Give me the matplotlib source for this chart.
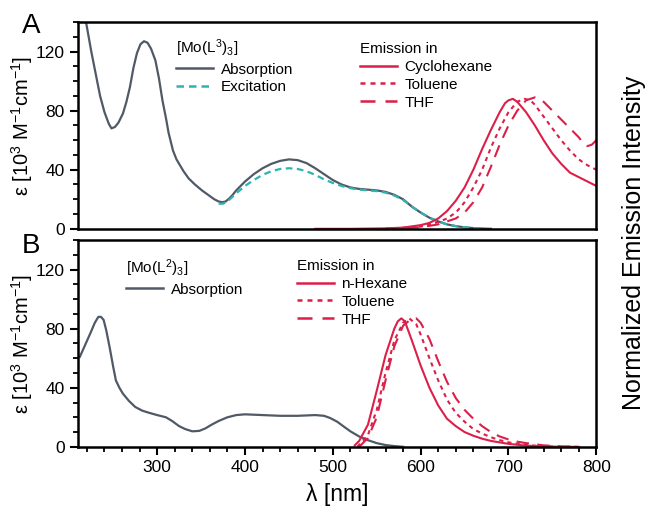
#!/usr/bin/env python3
"Absorption, excitation and emission spectra of [Mo(L3)3] and [Mo(L2)3]"

import matplotlib
matplotlib.use("Agg")
import matplotlib.pyplot as plt
from matplotlib.lines import Line2D
from matplotlib.ticker import MultipleLocator

plt.rcParams['font.family'] = ['Liberation Sans', 'DejaVu Sans']
plt.rcParams['mathtext.default'] = 'regular'

GRAY = '#505a66'
TEAL = '#2db3b0'
RED = '#dc1f48'

# Panel A, [Mo(L3)3]
abs_a_nm = [212, 219, 225, 230, 235, 240, 245, 248, 252, 256, 261, 265, 269,
            273, 277, 281, 285, 289, 293, 298, 302, 306, 310, 313, 318, 322,
            325, 330, 336, 343, 351, 358, 365, 370, 374, 378, 382, 386, 390,
            400, 410, 420, 430, 440, 450, 460, 470, 480, 490, 500, 510, 520,
            530, 540, 550, 560, 570, 580, 590, 600, 610, 620, 630, 640, 650,
            660, 670, 680]
abs_a = [165, 140, 120, 105, 90, 79, 71, 68, 69, 72, 78, 86, 96,
         109, 119, 125, 127, 126, 122, 114, 102, 87, 75, 65, 53, 47,
         44, 39, 34, 30, 26, 23, 20, 18.5, 18, 18.5, 20.5, 23, 26,
         32, 37, 41, 44, 46, 47, 46.5, 44.5, 41, 37, 33, 30, 28,
         27, 26.5, 26, 25, 23, 20, 15, 11, 7.5, 5, 3, 1.8, 1,
         0.5, 0.2, 0]

exc_a_nm = [370, 375, 380, 390, 400, 410, 420, 430, 440, 450, 460, 470, 480,
            490, 500, 510, 520, 530, 540, 550, 560, 570, 580, 590, 600, 610,
            620, 630, 640, 650, 660, 670]
exc_a = [17, 17, 18.5, 24, 29, 33, 36.5, 39, 40.5, 41, 40.5, 39, 36.5,
         33.5, 31, 29, 27.5, 26.5, 26, 25.5, 24.5, 22.5, 19.5, 15, 11, 7.5,
         5, 3, 1.8, 1, 0.5, 0]

em_cyc_nm = [480, 520, 560, 580, 600, 610, 620, 630, 640, 650, 660, 670, 680,
             690, 696, 700, 705, 710, 720, 730, 740, 750, 760, 770, 780, 790,
             800]
em_cyc = [0, 0, 0.3, 0.8, 2.5, 4, 7, 12, 19, 28, 40, 54, 67,
          79, 85, 87, 88, 86, 79, 70, 60, 51, 44, 38, 35, 32,
          29]

em_tol_a_nm = [560, 600, 620, 630, 640, 646, 650, 660, 670, 680, 690, 700,
               710, 718, 725, 730, 740, 750, 760, 770, 780, 790, 800]
em_tol_a = [0, 1.5, 4.5, 7, 11, 15, 18, 28, 40, 55, 68, 79,
            86, 88, 87, 84, 76, 68, 60, 53, 47, 43, 40]

em_thf_a_nm = [560, 600, 620, 640, 650, 660, 670, 680, 690, 700, 710, 720,
               730, 740, 750, 760, 770, 780, 785, 790, 795, 800]
em_thf_a = [0, 1, 3, 7, 11, 18, 28, 42, 57, 70, 80, 87,
            89, 86, 80, 74, 68, 62, 58, 56, 57, 60]

# Panel B, [Mo(L2)3]
abs_b_nm = [212, 218, 224, 229, 233, 236, 239, 242, 246, 250, 253, 257, 261,
            268, 275, 283, 291, 300, 310, 317, 325, 332, 340, 348, 355, 362,
            370, 380, 390, 400, 420, 440, 460, 480, 490, 497, 505, 513, 520,
            530, 540, 550, 560, 570, 580]
abs_b = [61, 69, 77, 84, 88, 88, 86, 79, 67, 54, 45, 40, 36,
         31, 27, 24.5, 23, 21.5, 20, 17.5, 14, 12, 10.5, 10.8, 12.5, 15,
         17.5, 20, 21.5, 22, 21.5, 21, 21, 21.5, 21, 19.5, 17, 13.5, 10.5,
         7, 4.5, 2.5, 1.2, 0.5, 0]

em_hex_nm = [525, 530, 540, 550, 560, 570, 574, 578, 582, 590, 600, 610, 620,
             630, 640, 650, 660, 670, 680, 690, 700, 720, 740, 760, 780]
em_hex = [1, 4, 15, 38, 62, 80, 85, 87, 85, 72, 55, 40, 28,
          19, 14, 10, 7.5, 5.5, 4, 3, 2, 0.8, 0.3, 0, 0]

em_tol_b_nm = [528, 540, 550, 560, 570, 580, 587, 595, 600, 610, 620, 630,
               640, 650, 660, 670, 680, 690, 700, 720, 740, 760, 780]
em_tol_b = [0, 8, 25, 50, 72, 84, 87, 83, 76, 60, 45, 32,
            23, 17, 12, 9, 6.5, 4.5, 3, 1.2, 0.4, 0, 0]

em_thf_b_nm = [530, 540, 550, 560, 570, 580, 590, 595, 600, 610, 620, 630,
               640, 650, 660, 670, 680, 690, 700, 710, 720, 740, 760, 780]
em_thf_b = [0, 6, 20, 45, 68, 82, 87, 87, 84, 73, 58, 44,
            33, 25, 19, 14, 10, 7, 5, 3.5, 2.5, 1, 0.3, 0]

DOTTED = (0, (2, 2))
DASHED = (0, (6, 4))


def style_axes(axes):
    "Common axis styling"
    axes.set_xlim(210, 800)
    axes.set_ylim(0, 140)
    axes.yaxis.set_major_locator(MultipleLocator(40))
    axes.yaxis.set_minor_locator(MultipleLocator(10))
    axes.xaxis.set_major_locator(MultipleLocator(100))
    axes.xaxis.set_minor_locator(MultipleLocator(20))
    for spine in axes.spines.values():
        spine.set_linewidth(1.8)
    axes.tick_params(which='major', direction='out', length=6, width=1.5,
                     labelsize=12.5, right=False, top=False)
    axes.tick_params(which='minor', direction='out', length=3.5, width=1.3,
                     right=False, top=False)
    axes.set_ylabel('ε [10$^3$ M$^{-1}$cm$^{-1}$]', fontsize=14.5,
                    labelpad=1)


def add_legends(axes, compound, solvent_labels, with_excitation, pos1, pos2):
    "Two title-headed legends without frames"
    handles = [Line2D([], [], color=GRAY, lw=1.8)]
    labels = ['Absorption']
    if with_excitation:
        handles.append(Line2D([], [], color=TEAL, lw=1.8, ls=(0, (3, 2))))
        labels.append('Excitation')
    leg1 = axes.legend(handles, labels, title=compound, loc='upper left',
                       bbox_to_anchor=pos1, frameon=False, fontsize=11,
                       title_fontsize=11, alignment='left', borderpad=0,
                       handlelength=2.4, handletextpad=0.5, labelspacing=0.25)
    axes.add_artist(leg1)
    handles = [Line2D([], [], color=RED, lw=1.8),
               Line2D([], [], color=RED, lw=1.8, ls=DOTTED),
               Line2D([], [], color=RED, lw=1.8, ls=DASHED)]
    axes.legend(handles, solvent_labels, title='Emission in', loc='upper left',
                bbox_to_anchor=pos2, frameon=False, fontsize=11,
                title_fontsize=11, alignment='left', borderpad=0,
                handlelength=2.4, handletextpad=0.5, labelspacing=0.25)


def main():
    "Main function"
    fig = plt.figure(figsize=(6.51, 5.13), dpi=100)
    ax_a = fig.add_axes([0.12, 0.554, 0.796, 0.403])
    ax_b = fig.add_axes([0.12, 0.129, 0.796, 0.403])

    # Panel A
    ax_a.plot(abs_a_nm, abs_a, color=GRAY, lw=1.6)
    ax_a.plot(exc_a_nm, exc_a, color=TEAL, lw=1.6, ls=(0, (3, 2)))
    ax_a.plot(em_cyc_nm, em_cyc, color=RED, lw=1.5)
    ax_a.plot(em_tol_a_nm, em_tol_a, color=RED, lw=1.5, ls=DOTTED)
    ax_a.plot(em_thf_a_nm, em_thf_a, color=RED, lw=1.5, ls=DASHED)
    style_axes(ax_a)
    ax_a.tick_params(axis='x', which='both', bottom=False, labelbottom=False)
    add_legends(ax_a, '[Mo(L$^3$)$_3$]', ['Cyclohexane', 'Toluene', 'THF'],
                True, (0.175, 0.964), (0.53, 0.94))

    # Panel B
    ax_b.plot(abs_b_nm, abs_b, color=GRAY, lw=1.6)
    ax_b.plot(em_hex_nm, em_hex, color=RED, lw=1.5)
    ax_b.plot(em_tol_b_nm, em_tol_b, color=RED, lw=1.5, ls=DOTTED)
    ax_b.plot(em_thf_b_nm, em_thf_b, color=RED, lw=1.5, ls=DASHED)
    style_axes(ax_b)
    ax_b.set_xlabel('λ [nm]', fontsize=16.5, labelpad=6)
    add_legends(ax_b, '[Mo(L$^2$)$_3$]', ['n-Hexane', 'Toluene', 'THF'],
                False, (0.078, 0.954), (0.408, 0.945))

    fig.text(0.034, 0.975, 'A', fontsize=20, va='top')
    fig.text(0.034, 0.545, 'B', fontsize=20, va='top')
    fig.text(0.974, 0.526, 'Normalized Emission Intensity', fontsize=18,
             rotation=90, va='center', ha='center')

    fig.savefig('out.png', dpi=100)


if __name__ == "__main__":
    main()
